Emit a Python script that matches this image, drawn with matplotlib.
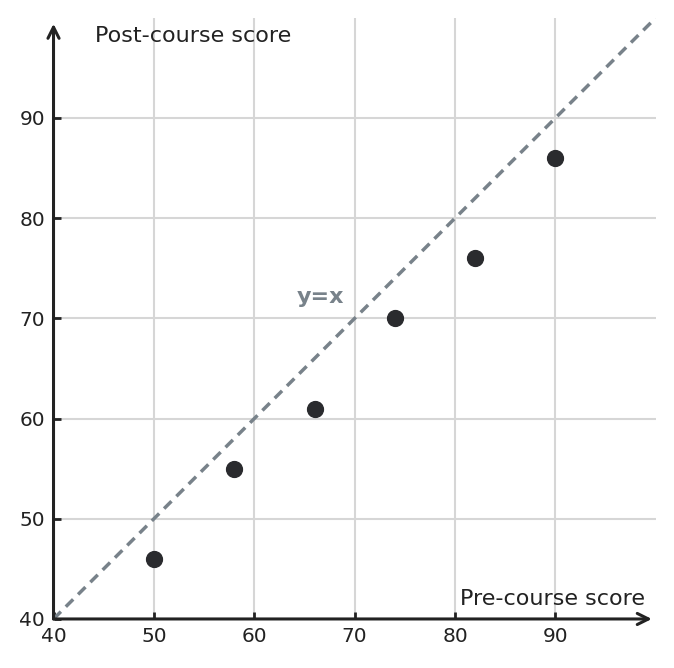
import matplotlib
matplotlib.use("Agg")
import matplotlib.pyplot as plt

# Scores before and after the course
pre_scores = [50, 58, 66, 74, 82, 90]
post_scores = [46, 55, 61, 70, 76, 86]
ticks = [40, 50, 60, 70, 80, 90]

fig = plt.figure(figsize=(6.74, 6.68), dpi=100)
ax = fig.add_axes([0.0794, 0.0734, 0.8936, 0.9])
ax.set_xlim(40, 100)
ax.set_ylim(40, 100)

# grid lines
for t in ticks[1:]:
    ax.axvline(t, color="#d6d6d6", lw=1.5, zorder=0)
    ax.axhline(t, color="#d6d6d6", lw=1.5, zorder=0)

# reference line y = x
ax.plot([40, 100], [40, 100], color="#78828a", lw=2.5, ls=(0, (3, 2)), zorder=2)
ax.text(66.6, 72.1, "y=x", color="#78828a", fontsize=16, fontweight="bold",
        ha="center", va="center")

ax.scatter(pre_scores, post_scores, s=130, color="#2a2b2e", zorder=3)

# axes as arrows
for s in ax.spines.values():
    s.set_visible(False)
ax.annotate("", xy=(99.6, 40), xytext=(40, 40),
            arrowprops=dict(arrowstyle="->", color="#222222", lw=2.2,
                            mutation_scale=20, shrinkA=0, shrinkB=0),
            annotation_clip=False)
ax.annotate("", xy=(40, 99.4), xytext=(40, 40),
            arrowprops=dict(arrowstyle="->", color="#222222", lw=2.2,
                            mutation_scale=20, shrinkA=0, shrinkB=0),
            annotation_clip=False)

ax.set_xticks(ticks)
ax.set_yticks(ticks)
ax.tick_params(direction="in", length=5, width=2, color="#222222",
               labelsize=14.5, labelcolor="#222222", pad=6)

ax.text(44.1, 98.2, "Post-course score", fontsize=16, color="#222222",
        ha="left", va="center")
ax.text(98.9, 42.0, "Pre-course score", fontsize=16, color="#222222",
        ha="right", va="center")

fig.savefig("out.png", dpi=100)
